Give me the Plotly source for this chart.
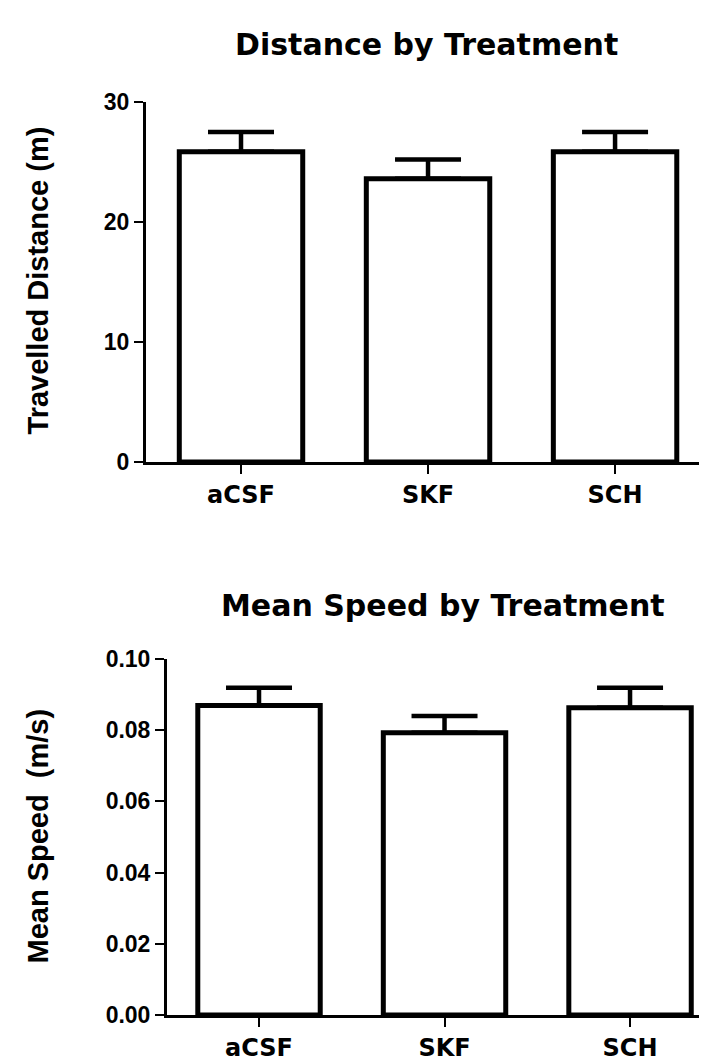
import plotly.graph_objects as go

# ---- data ----
categories = ["aCSF", "SKF", "SCH"]
distance_mean = [25.85, 23.6, 25.85]
distance_err = [1.65, 1.6, 1.65]
speed_mean = [0.0869, 0.0793, 0.0863]
speed_err = [0.0050, 0.0047, 0.0056]
distance_ticks = [0, 10, 20, 30]
speed_ticks = [0.00, 0.02, 0.04, 0.06, 0.08, 0.10]

W, H = 707, 1061
TITLE_FONT = dict(family="DejaVu Sans", size=30, color="black", weight="bold")
XTICK_FONT = dict(family="DejaVu Sans", size=24, color="black", weight="bold")
YTICK_FONT = dict(family="Liberation Sans, Arial", size=23, color="black", weight="bold")
YTITLE_FONT = dict(family="Liberation Sans, Arial", size=29, color="black", weight="bold")

fig = go.Figure()

fig.add_trace(go.Bar(
    x=categories, y=distance_mean, xaxis="x", yaxis="y",
    width=0.66,
    marker=dict(color="white", line=dict(color="black", width=5)),
    error_y=dict(type="data", symmetric=False, array=distance_err,
                 arrayminus=[0, 0, 0], thickness=4.5, width=33, color="black"),
    showlegend=False,
))
fig.add_trace(go.Bar(
    x=categories, y=speed_mean, xaxis="x2", yaxis="y2",
    width=0.66,
    marker=dict(color="white", line=dict(color="black", width=5)),
    error_y=dict(type="data", symmetric=False, array=speed_err,
                 arrayminus=[0, 0, 0], thickness=4.5, width=33, color="black"),
    showlegend=False,
))

axis_common = dict(showline=True, linecolor="black", linewidth=3,
                   ticks="outside", ticklen=9, tickwidth=2, tickcolor="black",
                   showgrid=False, zeroline=False)

fig.update_layout(
    width=W, height=H,
    margin=dict(l=0, r=0, t=0, b=0),
    paper_bgcolor="white", plot_bgcolor="white",
    xaxis=dict(domain=[138 / W, 703 / W], range=[-0.508, 2.513], anchor="y",
               tickfont=XTICK_FONT, **axis_common),
    yaxis=dict(domain=[1 - 452 / H, 1 - 83 / H], range=[0, 30], anchor="x",
               tickvals=distance_ticks, tickfont=YTICK_FONT, **axis_common),
    xaxis2=dict(domain=[159 / W, 1.0], range=[-0.496, 2.458], anchor="y2",
                tickfont=XTICK_FONT, **axis_common),
    yaxis2=dict(domain=[1 - 1019 / H, 1 - 654 / H], range=[0, 0.10], anchor="x2",
                tickvals=speed_ticks, tickformat=".2f", tickfont=YTICK_FONT,
                **axis_common),
    annotations=[
        dict(text="Distance by Treatment", x=418 / W, y=1 - 24 / H,
             xref="paper", yref="paper", xanchor="center", yanchor="middle",
             showarrow=False, font=TITLE_FONT),
        dict(text="Mean Speed by Treatment", x=435 / W, y=1 - 599 / H,
             xref="paper", yref="paper", xanchor="center", yanchor="middle",
             showarrow=False, font=TITLE_FONT),
        dict(text="Travelled Distance (m)", x=30 / W, y=1 - 266 / H,
             xref="paper", yref="paper", xanchor="center", yanchor="middle",
             textangle=-90, showarrow=False, font=YTITLE_FONT),
        dict(text="Mean Speed  (m/s)", x=30 / W, y=1 - 836 / H,
             xref="paper", yref="paper", xanchor="center", yanchor="middle",
             textangle=-90, showarrow=False, font=YTITLE_FONT),
    ],
)

fig.write_html("out.html")
